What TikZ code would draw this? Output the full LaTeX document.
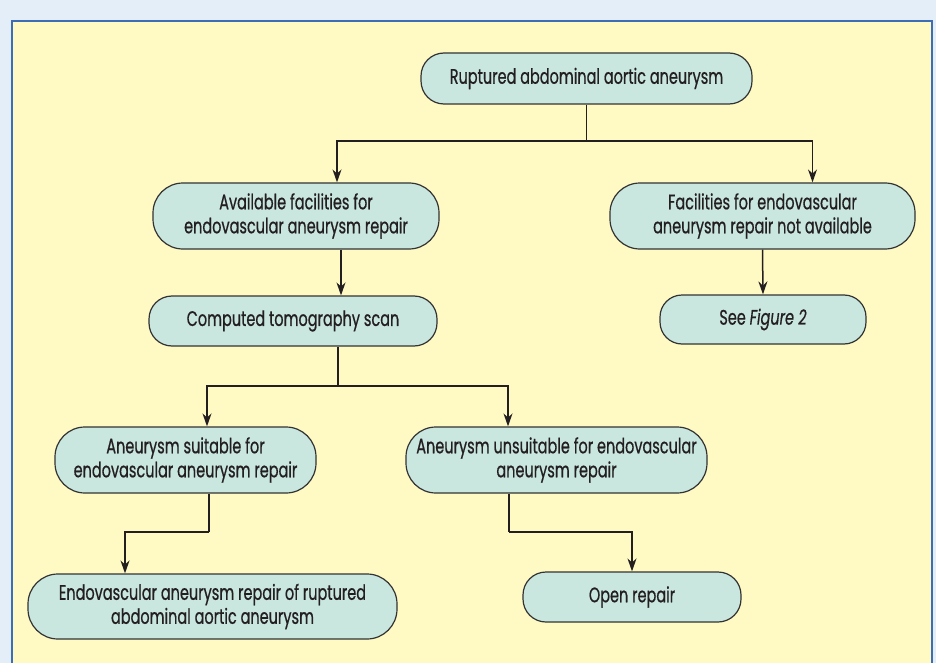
\documentclass[tikz,border=0pt]{standalone}
\usepackage{fontspec}
\setmainfont{Poppins}[FakeStretch=0.69,FakeBold=0.6]
\usetikzlibrary{arrows.meta}

\definecolor{pagebg}{HTML}{E3EEF9}
\definecolor{panelfill}{HTML}{FFF9C4}
\definecolor{panelline}{HTML}{3D6DB5}
\definecolor{boxfill}{HTML}{C9E6DF}
\definecolor{boxline}{HTML}{333333}
\definecolor{inkdark}{HTML}{231F20}

\begin{document}
\begin{tikzpicture}[x=1pt,y=-1pt]
            \tikzset{
              flowbox/.style={draw=boxline, fill=boxfill, line width=1.2pt,
                align=center, inner sep=0pt, text=inkdark,
                font=\fontsize{21}{24}\selectfont},
              flowarrow/.style={draw=inkdark, line width=1.5pt,
                -{Stealth[length=13pt,width=9pt]}},
              flowline/.style={draw=inkdark, line width=1.5pt}
            }
            \useasboundingbox (0,0) rectangle (936,663);
            \fill[pagebg] (0,0) rectangle (936,663);
            \draw[panelline, line width=2pt, fill=panelfill] (12,21) rectangle (932,680);

            % first row
            \node[flowbox, minimum width=331pt, minimum height=51pt, rounded corners=23pt] (rupture) at (586.5,78.5) {Ruptured abdominal aortic aneurysm};
            \node[flowbox, minimum width=286pt, minimum height=66pt, rounded corners=30pt] (facil) at (296,216) {Available facilities for\\endovascular aneurysm repair};
            \node[flowbox, minimum width=305pt, minimum height=66pt, rounded corners=30pt] (nofacil) at (762.5,216) {Facilities for endovascular\\aneurysm repair not available};
            \node[flowbox, minimum width=206pt, minimum height=49pt, rounded corners=22pt] (fig2) at (763,319.5) {See \textit{Figure 2}};
            \node[flowbox, minimum width=288pt, minimum height=50pt, rounded corners=23pt] (ctscan) at (293,321) {Computed tomography scan};

            % second row
            \node[flowbox, minimum width=261pt, minimum height=66pt, rounded corners=30pt] (suit) at (185.5,460) {Aneurysm suitable for\\endovascular aneurysm repair};
            \node[flowbox, minimum width=301pt, minimum height=66pt, rounded corners=30pt] (unsuit) at (556.5,460) {Aneurysm unsuitable for endovascular\\aneurysm repair};
            \node[flowbox, minimum width=369pt, minimum height=65pt, rounded corners=30pt] (evar) at (212.5,606.5) {Endovascular aneurysm repair of ruptured\\abdominal aortic aneurysm};
            \node[flowbox, minimum width=218pt, minimum height=50pt, rounded corners=23pt] (open) at (632,597) {Open repair};

            \coordinate (split1) at (586.5,141);
            \coordinate (split2) at (338,386);
            \coordinate (bend1) at (209,532);
            \coordinate (bend2) at (509,532);

            \draw[flowline] (rupture.south) -- (split1);
            \draw[flowarrow] (split1) -| ([xshift=41pt]facil.north);
            \draw[flowarrow] (split1) -| ([xshift=50pt]nofacil.north);
            \draw[flowarrow] ([xshift=45pt]facil.south) -- ([xshift=48pt]ctscan.north);
            \draw[flowarrow] (nofacil.south) -- (fig2.north);

            \draw[flowline] ([xshift=45pt]ctscan.south) -- (split2);
            \draw[flowarrow] (split2) -| ([xshift=21.5pt]suit.north);
            \draw[flowarrow] (split2) -| ([xshift=-48.5pt]unsuit.north);

            \draw[flowline] ([xshift=23.5pt]suit.south) -- (bend1);
            \draw[flowarrow] (bend1) -| ([xshift=-87.5pt]evar.north);
            \draw[flowline] ([xshift=-47.5pt]unsuit.south) -- (bend2);
            \draw[flowarrow] (bend2) -| (open.north);
\end{tikzpicture}
\end{document}
